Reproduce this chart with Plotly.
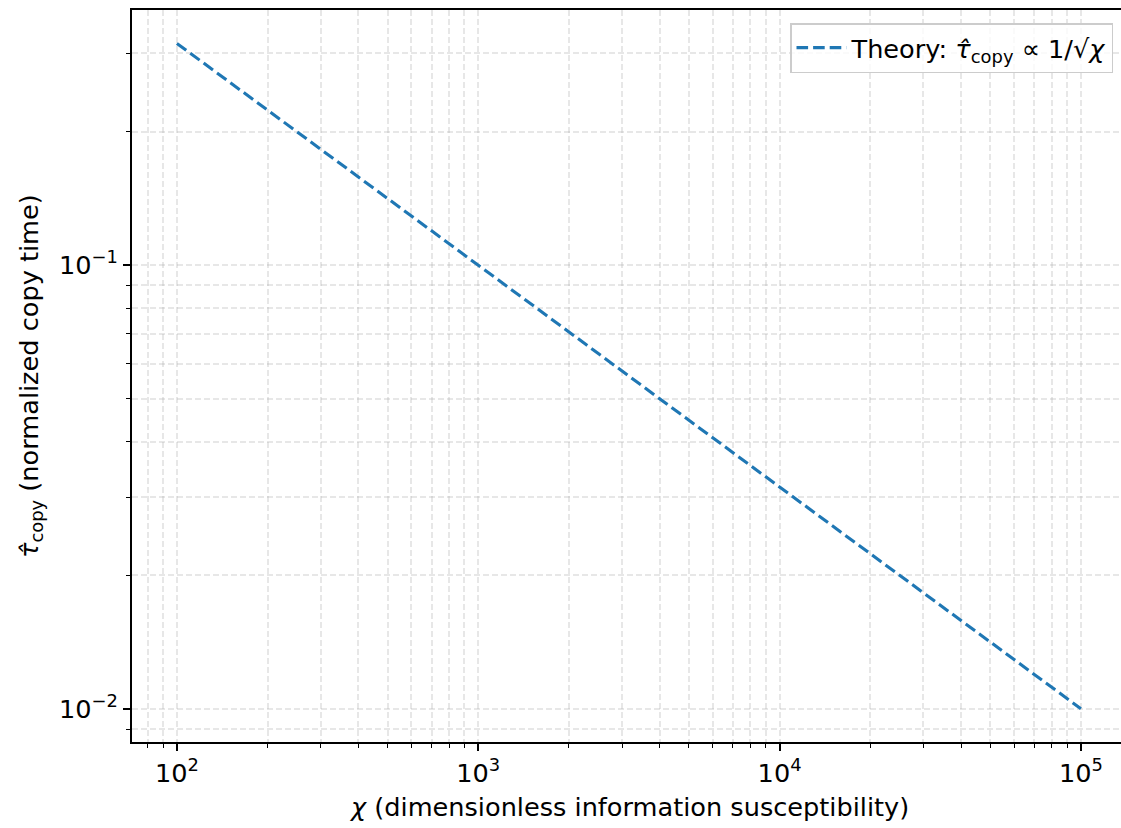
import plotly.graph_objects as go

# Data (straight line on log-log axes)
chi_values = [1e2, 1e3, 1e4, 1e5]
tau_values = [0.316, 0.1, 0.0316, 0.01]

x_major_ticks = [1e2, 1e3, 1e4, 1e5]
x_major_labels = ["10<sup>2</sup>", "10<sup>3</sup>", "10<sup>4</sup>", "10<sup>5</sup>"]
y_major_ticks = [0.01, 0.1]
y_major_labels = ["10<sup>\u22122</sup>", "10<sup>\u22121</sup>"]

x_minor_ticks = [m * 10 ** e for e in range(1, 6) for m in range(2, 10)]
y_minor_ticks = [m * 10 ** e for e in range(-3, 0) for m in range(2, 10)]

FONT = "DejaVu Sans"
FS = 25.6
W, H = 1121, 828
ML, MR, MT, MB = 132, 0, 10, 86

grid_color = "rgba(176,176,176,0.3)"

fig = go.Figure()
fig.add_trace(go.Scatter(
    x=chi_values, y=tau_values, mode="lines",
    line=dict(color="#1f77b4", width=3.1, dash="11.6px,5px"),
    name="Theory: <i>\u03c4\u0302</i><sub>copy</sub> \u221d 1/\u221a<i>\u03c7</i>",
))

axis_common = dict(
    type="log",
    showline=True, linecolor="black", linewidth=1.7,
    ticks="outside", ticklen=7, tickwidth=1.7, tickcolor="black",
    showgrid=True, gridcolor=grid_color, gridwidth=1.6, griddash="6px,3px",
    zeroline=False,
    tickfont=dict(family=FONT, size=FS, color="black"),
)

fig.update_xaxes(
    **axis_common,
    range=[1.851, 5.133],
    tickmode="array", tickvals=x_major_ticks, ticktext=x_major_labels,
    mirror=True,
    minor=dict(tickvals=x_minor_ticks, ticks="outside", ticklen=4.2, tickwidth=1.25,
               tickcolor="black", showgrid=True, gridcolor=grid_color, gridwidth=1.6,
               griddash="6px,3px"),
)
fig.update_yaxes(
    **axis_common,
    range=[-2.075, -0.425],
    tickmode="array", tickvals=y_major_ticks, ticktext=y_major_labels,
    minor=dict(tickvals=y_minor_ticks, ticks="outside", ticklen=4.2, tickwidth=1.25,
               tickcolor="black", showgrid=True, gridcolor=grid_color, gridwidth=1.6,
               griddash="6px,3px"),
)

pw = W - ML - MR
ph = H - MT - MB
fig.add_annotation(
    x=(629 - ML) / pw, y=(H - 807 - MB) / ph, xref="paper", yref="paper",
    text="<i>\u03c7</i> (dimensionless information susceptibility)", showarrow=False,
    font=dict(family=FONT, size=FS, color="black"), xanchor="center", yanchor="middle",
)
fig.add_annotation(
    x=(30 - ML) / pw, y=0.5, xref="paper", yref="paper",
    text="<i>\u03c4\u0302</i><sub>copy</sub> (normalized copy time)", showarrow=False, textangle=-90,
    font=dict(family=FONT, size=FS, color="black"), xanchor="center", yanchor="middle",
)

fig.update_layout(
    width=W, height=H,
    margin=dict(l=ML, r=MR, t=MT, b=MB),
    paper_bgcolor="white", plot_bgcolor="white",
    font=dict(family=FONT, size=FS, color="black"),
    showlegend=True,
    legend=dict(
        x=(1113 - ML) / pw, y=1 - (23 - MT) / ph, xanchor="right", yanchor="top",
        bgcolor="rgba(255,255,255,0.8)", bordercolor="#cccccc", borderwidth=1.5,
        font=dict(family=FONT, size=FS, color="black"),
        itemwidth=50,
    ),
)

fig.write_html(
    "out.html",
    config={"displayModeBar": False},
    post_script=(
        "document.documentElement.style.overflow='hidden';"
        "document.body.style.margin='0';document.body.style.overflow='hidden';"
    ),
)
